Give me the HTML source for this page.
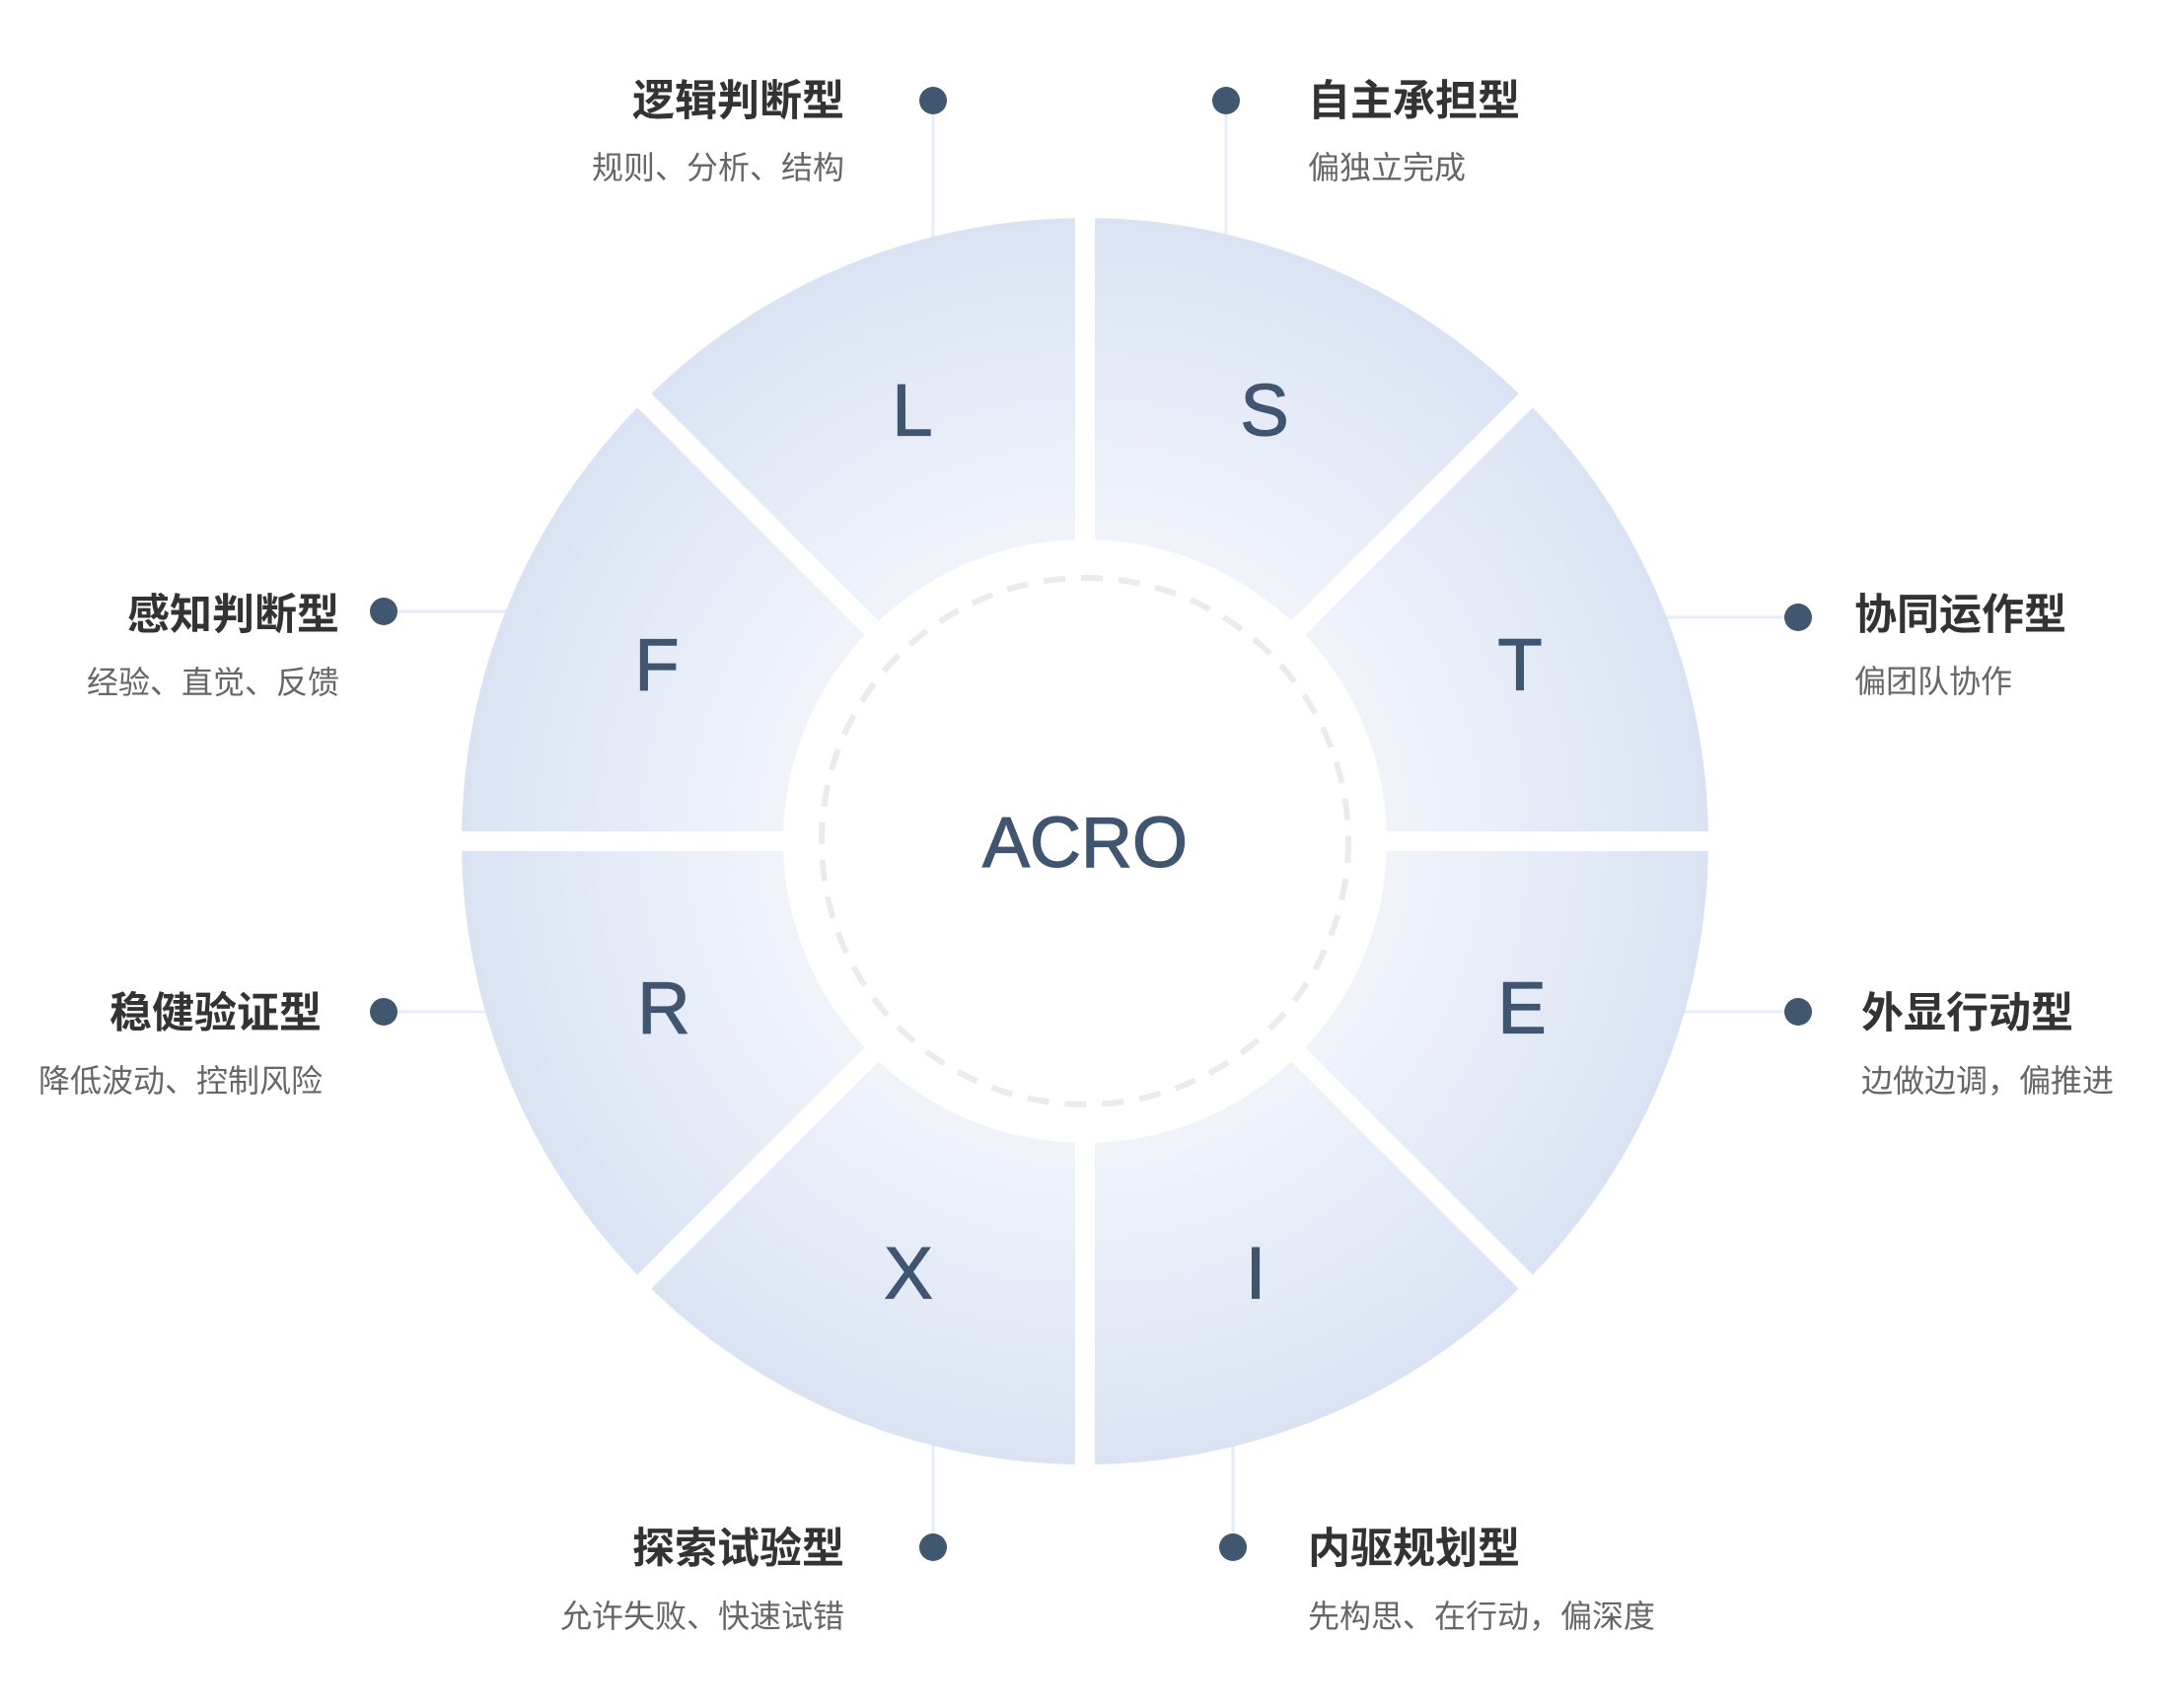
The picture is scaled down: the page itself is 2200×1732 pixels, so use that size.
<!DOCTYPE html>
<html><head><meta charset="utf-8"><style>html,body{margin:0;padding:0;background:#fff}svg{display:block}</style></head>
<body>
<svg width="2200" height="1732" viewBox="0 0 2200 1732" xmlns="http://www.w3.org/2000/svg">
<defs>
<radialGradient id="g" cx="1100" cy="853" r="632" gradientUnits="userSpaceOnUse">
<stop offset="0.45" stop-color="#f2f5fb"/>
<stop offset="1" stop-color="#dae3f3"/>
</radialGradient>
</defs>
<g stroke="#e6edf8" stroke-width="3">
<line x1="946" y1="102" x2="946" y2="241"/>
<line x1="1243" y1="102" x2="1243" y2="245"/>
<line x1="1684" y1="626" x2="1823" y2="626"/>
<line x1="1684" y1="1026" x2="1823" y2="1026"/>
<line x1="389" y1="620" x2="526" y2="620"/>
<line x1="389" y1="1026" x2="526" y2="1026"/>
<line x1="946" y1="1463" x2="946" y2="1569"/>
<line x1="1250" y1="1463" x2="1250" y2="1569"/>
</g>
<circle cx="1100" cy="853" r="632" fill="url(#g)"/>
<g stroke="#fff" stroke-width="20">
<line x1="1100" y1="200" x2="1100" y2="1506"/>
<line x1="447" y1="853" x2="1753" y2="853"/>
<line x1="638" y1="391" x2="1562" y2="1315"/>
<line x1="1562" y1="391" x2="638" y2="1315"/>
</g>
<circle cx="1100" cy="853" r="306" fill="#fff"/>
<circle cx="1100" cy="853" r="267" fill="none" stroke="#ebebeb" stroke-width="6" stroke-dasharray="22 16"/>
<g font-family="Liberation Sans, sans-serif" fill="#3f5570" stroke="#3f5570" stroke-width="1.2" text-anchor="middle" dominant-baseline="central" font-size="74">
<text x="925" y="416">L</text>
<text x="1282" y="416">S</text>
<text x="1541" y="674">T</text>
<text x="1543" y="1022">E</text>
<text x="666" y="674">F</text>
<text x="673" y="1022">R</text>
<text x="921" y="1291">X</text>
<text x="1273" y="1291">I</text>
<text x="1100" y="855" font-size="72">ACRO</text>
</g>
<g fill="#41566f">
<circle cx="946" cy="102" r="14"/><circle cx="1243" cy="102" r="14"/>
<circle cx="1823" cy="626" r="14"/><circle cx="1823" cy="1026" r="14"/>
<circle cx="389" cy="620" r="14"/><circle cx="389" cy="1026" r="14"/>
<circle cx="946" cy="1569" r="14"/><circle cx="1250" cy="1569" r="14"/>
</g>
<g font-family="Liberation Sans, Noto Sans CJK SC, sans-serif" dominant-baseline="central">
<g font-size="43" font-weight="bold" fill="#333">
<text x="856" y="103" text-anchor="end">逻辑判断型</text>
<text x="1326" y="103">自主承担型</text>
<text x="1880" y="624">协同运作型</text>
<text x="1887" y="1028">外显行动型</text>
<text x="344" y="624" text-anchor="end">感知判断型</text>
<text x="326" y="1028" text-anchor="end">稳健验证型</text>
<text x="856" y="1571" text-anchor="end">探索试验型</text>
<text x="1326" y="1571">内驱规划型</text>
</g>
<g font-size="32" fill="#666">
<text x="856" y="170" text-anchor="end">规则、分析、结构</text>
<text x="1326" y="170">偏独立完成</text>
<text x="1880" y="691">偏团队协作</text>
<text x="1887" y="1096">边做边调，偏推进</text>
<text x="344" y="692" text-anchor="end">经验、直觉、反馈</text>
<text x="327" y="1096" text-anchor="end">降低波动、控制风险</text>
<text x="856" y="1639" text-anchor="end">允许失败、快速试错</text>
<text x="1326" y="1639">先构思、在行动，偏深度</text>
</g>
</g>
</svg>
</body></html>
